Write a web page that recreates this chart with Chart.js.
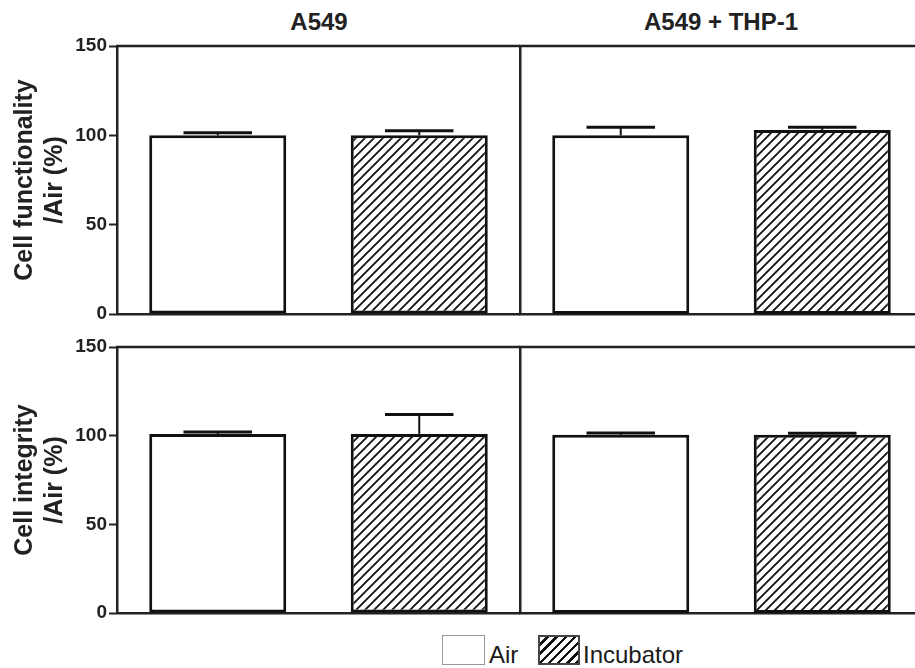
<!DOCTYPE html>
<html>
<head>
<meta charset="utf-8">
<script src="https://cdn.jsdelivr.net/npm/chart.js@4/dist/chart.umd.min.js"></script>
<style>
  html, body { margin: 0; padding: 0; background: #fff; }
  body { width: 915px; height: 668px; position: relative; overflow: hidden; font-family: 'Liberation Sans', Arial, sans-serif; color: #222; }
  canvas { position: absolute; }
  .head { position: absolute; top: 10px; font-size: 24px; line-height: 24px; font-weight: bold; white-space: nowrap; transform: translateX(-50%); }
  .swatch { position: absolute; top: 635px; height: 30px; box-sizing: border-box; }
  .leg { position: absolute; top: 643px; font-size: 24px; line-height: 24px; white-space: nowrap; color: #1a1a1a; }
</style>
</head>
<body>
<div class="head" style="left:319px">A549</div>
<div class="head" style="left:721px">A549 + THP-1</div>

<canvas id="fA549" width="520" height="304" style="left:0;top:26px"></canvas>
<canvas id="fTHP" width="405" height="304" style="left:518px;top:26px"></canvas>
<canvas id="iA549" width="520" height="302" style="left:0;top:327px"></canvas>
<canvas id="iTHP" width="405" height="302" style="left:518px;top:327px"></canvas>

<div class="swatch" style="left:442px;width:43px;border:1.5px solid #999;background:#fff"></div>
<div class="leg" style="left:489px">Air</div>
<div class="swatch" style="left:538px;width:42px;border:2px solid #444;background:repeating-linear-gradient(135deg,#fff 0 4px,#111 4px 6.5px)"></div>
<div class="leg" style="left:583px">Incubator</div>

<script>
// Data (% of Air)
const conditions = ['Air', 'Incubator'];
const functionalityA549 = [100, 100];
const functionalityA549Err = [1.5, 2.5];
const functionalityTHP = [100, 103];
const functionalityTHPErr = [4.5, 1.5];
const integrityA549 = [101, 101];
const integrityA549Err = [1, 11];
const integrityTHP = [100.5, 100.5];
const integrityTHPErr = [1, 0.8];
const yTicks = [0, 50, 100, 150];

const FONT = "'Liberation Sans', Arial, sans-serif";
const INK = '#222';

// diagonal hatch for the Incubator bars
function hatchPattern() {
    const c = document.createElement('canvas');
    c.width = 9; c.height = 9;
    const g = c.getContext('2d');
    g.fillStyle = '#fff';
    g.fillRect(0, 0, 9, 9);
    g.strokeStyle = '#111';
    g.lineWidth = 1.8;
    g.beginPath();
    g.moveTo(-1, 10); g.lineTo(10, -1);
    g.moveTo(-1, 1); g.lineTo(1, -1);
    g.moveTo(8, 10); g.lineTo(10, 8);
    g.stroke();
    return g.createPattern(c, 'repeat');
}

// error bars (upper only) drawn through the y scale
const errorBars = {
    id: 'errorBars',
    afterDatasetsDraw(chart, args, opts) {
        const ctx = chart.ctx;
        const y = chart.scales.y;
        const values = chart.data.datasets[0].data;
        ctx.save();
        ctx.strokeStyle = '#111';
        chart.getDatasetMeta(0).data.forEach((bar, i) => {
            const top = y.getPixelForValue(values[i] + opts.errors[i]);
            const half = bar.width / 4;
            ctx.lineWidth = 2;
            ctx.beginPath();
            ctx.moveTo(bar.x, bar.y);
            ctx.lineTo(bar.x, top);
            ctx.stroke();
            ctx.lineWidth = 3;
            ctx.beginPath();
            ctx.moveTo(bar.x - half, top);
            ctx.lineTo(bar.x + half, top);
            ctx.stroke();
        });
        ctx.restore();
    }
};

// top frame line of each panel
const topLine = {
    id: 'topLine',
    afterDraw(chart) {
        const { ctx, chartArea } = chart;
        ctx.save();
        ctx.strokeStyle = INK;
        ctx.lineWidth = 2.5;
        ctx.beginPath();
        ctx.moveTo(chartArea.left - 1, chartArea.top);
        ctx.lineTo(chartArea.right, chartArea.top);
        ctx.stroke();
        ctx.restore();
    }
};

const hatch = hatchPattern();

function makePanel(id, values, errors, withAxis, title, padding) {
    const yAxis = withAxis ? {
        min: 0,
        max: 150,
        afterBuildTicks: s => { s.ticks = yTicks.map(v => ({ value: v })); },
        ticks: { color: INK, padding: 2, font: { family: FONT, size: 19, weight: 'bold' } },
        grid: { display: true, drawOnChartArea: false, drawTicks: true, tickLength: 8, tickWidth: 2, tickColor: INK },
        border: { display: true, color: INK, width: 2.5 },
        title: {
            display: true,
            text: title,
            color: INK,
            font: { family: FONT, size: 25, weight: 'bold', lineHeight: 1.2 },
            padding: { top: 10, bottom: 0 }
        },
        afterFit: s => { s.width = 117; }
    } : {
        min: 0,
        max: 150,
        ticks: { display: false },
        grid: { display: false },
        border: { display: true, color: INK, width: 2.5 },
        afterFit: s => { s.width = 0; }
    };

    return new Chart(document.getElementById(id), {
        type: 'bar',
        data: {
            labels: conditions,
            datasets: [{
                data: values,
                backgroundColor: ['#fff', hatch],
                borderColor: '#111',
                borderWidth: 3,
                borderSkipped: false,
                barPercentage: 0.68,
                categoryPercentage: 1
            }]
        },
        options: {
            responsive: false,
            animation: false,
            devicePixelRatio: 1,
            layout: { padding: padding },
            plugins: {
                legend: { display: false },
                tooltip: { enabled: false },
                errorBars: { errors: errors }
            },
            scales: {
                x: {
                    ticks: { display: false },
                    grid: { display: false },
                    border: { display: true, color: INK, width: 2.5 },
                    afterFit: s => { s.height = 0; }
                },
                y: yAxis
            }
        },
        plugins: [errorBars, topLine]
    });
}

makePanel('fA549', functionalityA549, functionalityA549Err, true,
    ['Cell functionality', '/Air (%)'], { top: 20, bottom: 16, left: 0, right: 0 });
makePanel('fTHP', functionalityTHP, functionalityTHPErr, false,
    null, { top: 20, bottom: 16, left: 2, right: 0 });
makePanel('iA549', integrityA549, integrityA549Err, true,
    ['Cell integrity', '/Air (%)'], { top: 20, bottom: 16, left: 0, right: 0 });
makePanel('iTHP', integrityTHP, integrityTHPErr, false,
    null, { top: 20, bottom: 16, left: 2, right: 0 });
</script>
</body>
</html>
